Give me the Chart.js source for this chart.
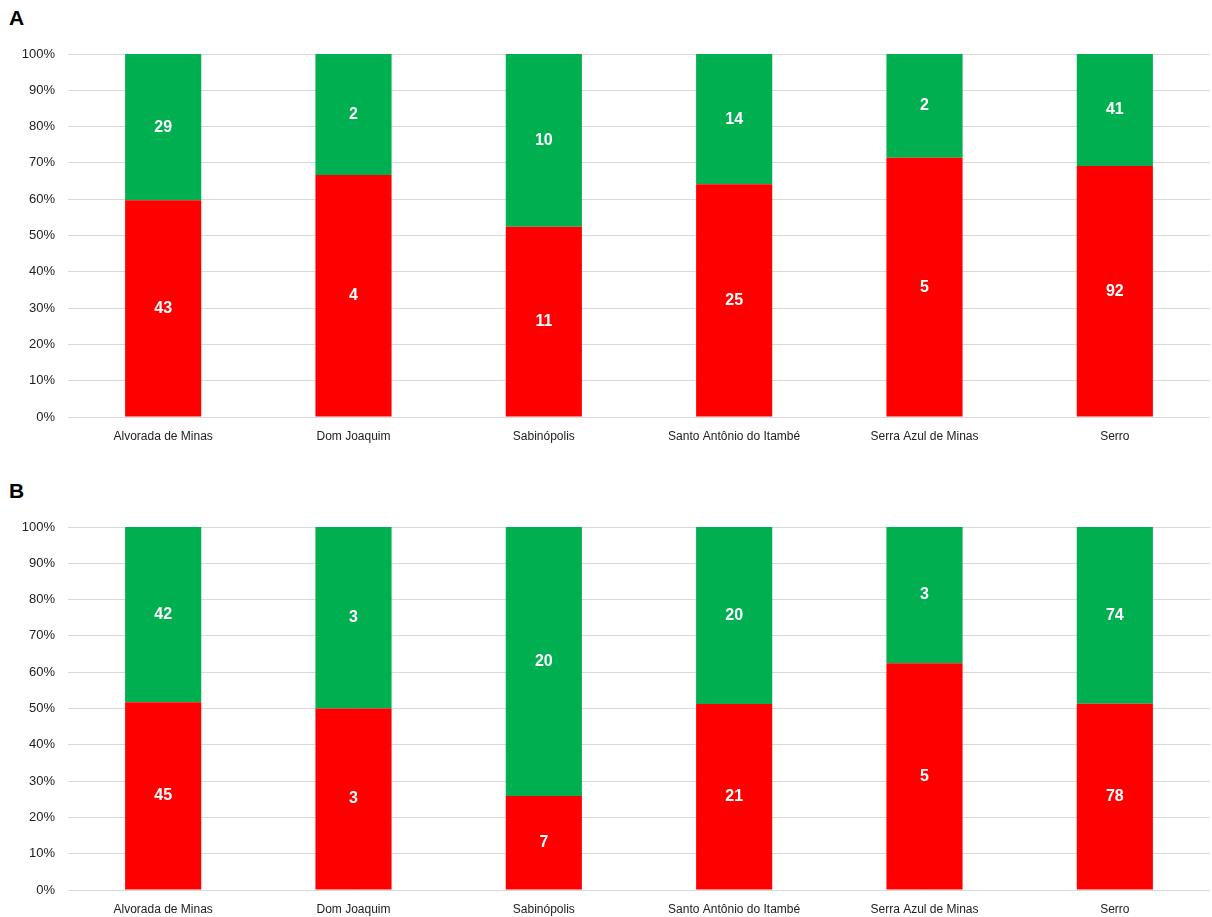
<!DOCTYPE html>
<html>
<head>
<meta charset="utf-8">
<script src="https://cdn.jsdelivr.net/npm/chart.js@4.4.1/dist/chart.umd.min.js"></script>
<style>
  body { margin: 0; background: #fff; width: 1212px; height: 917px; overflow: hidden; position: relative; font-family: "Liberation Sans", Arial, sans-serif; }
  .panel { position: absolute; left: 0; width: 1212px; height: 460px; }
  .tag { position: absolute; left: 9px; font-weight: bold; font-size: 21px; color: #000; }
</style>
</head>
<body>
<div class="tag" style="top:6px">A</div>
<div class="panel" style="top:0"><canvas id="chartA"></canvas></div>
<div class="tag" style="top:479px">B</div>
<div class="panel" style="top:473px"><canvas id="chartB"></canvas></div>
<script>
// municipalities
const towns = ["Alvorada de Minas", "Dom Joaquim", "Sabinópolis", "Santo Antônio do Itambé", "Serra Azul de Minas", "Serro"];

// panel A counts
const redA = [43, 4, 11, 25, 5, 92];
const greenA = [29, 2, 10, 14, 2, 41];

// panel B counts
const redB = [45, 3, 7, 21, 5, 78];
const greenB = [42, 3, 20, 20, 3, 74];

const RED = "#ff0000";
const GREEN = "#00b050";

// draws the raw count in the middle of each segment
const countLabels = {
  id: "countLabels",
  afterDatasetsDraw(chart) {
    const ctx = chart.ctx;
    ctx.save();
    ctx.fillStyle = "#fff";
    ctx.font = "bold 16px 'Liberation Sans', Arial, sans-serif";
    ctx.textAlign = "center";
    ctx.textBaseline = "middle";
    chart.data.datasets.forEach((ds, i) => {
      chart.getDatasetMeta(i).data.forEach((bar, j) => {
        const p = bar.getProps(["x", "y", "base"], true);
        ctx.fillText(ds.counts[j], p.x, (p.y + p.base) / 2);
      });
    });
    ctx.restore();
  }
};

function makeChart(id, red, green) {
  const pct = (arr, i) => arr[i] / (red[i] + green[i]) * 100;
  new Chart(document.getElementById(id), {
    type: "bar",
    data: {
      labels: towns,
      datasets: [
        { data: red.map((v, i) => pct(red, i)), counts: red, backgroundColor: RED },
        { data: green.map((v, i) => pct(green, i)), counts: green, backgroundColor: GREEN }
      ]
    },
    options: {
      responsive: true,
      maintainAspectRatio: false,
      animation: false,
      layout: { padding: { top: 54, right: 2, bottom: 15, left: 1 } },
      datasets: { bar: { categoryPercentage: 1, barPercentage: 0.4 } },
      plugins: { legend: { display: false }, tooltip: { enabled: false } },
      scales: {
        x: {
          stacked: true,
          grid: { display: false },
          border: { display: false },
          ticks: { color: "#222", font: { size: 12, family: "'Liberation Sans', Arial, sans-serif" }, padding: 4, maxRotation: 0 },
          afterFit(scale) { scale.height = 28; }
        },
        y: {
          stacked: true,
          min: 0,
          max: 100,
          grid: { color: "#d9d9d9", drawTicks: false },
          border: { display: false },
          ticks: {
            stepSize: 10,
            color: "#222",
            padding: 13,
            font: { size: 13, family: "'Liberation Sans', Arial, sans-serif" },
            callback: v => v + "%"
          },
          afterFit(scale) { scale.width = 67; }
        }
      }
    },
    plugins: [countLabels]
  });
}

makeChart("chartA", redA, greenA);
makeChart("chartB", redB, greenB);
</script>
</body>
</html>
